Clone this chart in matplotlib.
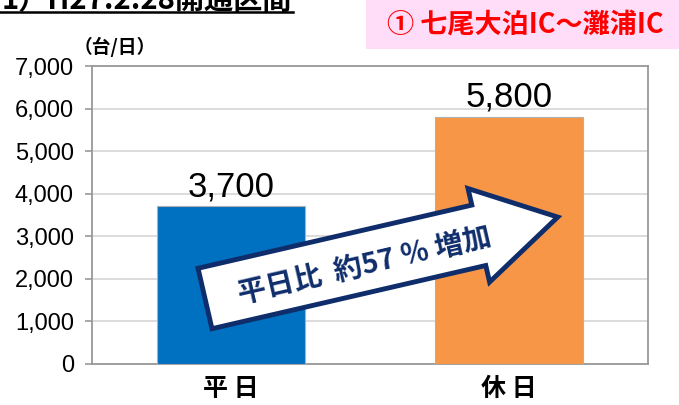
import numpy as np
import matplotlib
matplotlib.use("Agg")
import matplotlib.pyplot as plt
from matplotlib.patches import Polygon, Rectangle
from matplotlib.transforms import IdentityTransform
from matplotlib.ticker import FuncFormatter

# data
categories = ['平 日', '休 日']
values = [3700, 5800]
bar_colors = ['#0070C0', '#F79646']
yticks = [0, 1000, 2000, 3000, 4000, 5000, 6000, 7000]

jp = ['Noto Sans CJK JP', 'DejaVu Sans']
num = ['Liberation Sans', 'DejaVu Sans']
navy = '#0F2D6B'

W, H = 679, 405
fig = plt.figure(figsize=(W / 100, H / 100), dpi=100)
ax = fig.add_axes([92 / W, 1 - 364 / H, (648 - 92) / W, (364 - 66) / H])

x = np.arange(len(categories))
ax.bar(x, values, width=0.53, color=bar_colors, edgecolor='#B0B0B0',
       linewidth=0.8, zorder=3)
ax.set_xlim(-0.5, 1.5)
ax.set_ylim(0, 7000)
ax.set_yticks(yticks)
ax.yaxis.set_major_formatter(FuncFormatter(lambda v, p: f'{int(v):,}'))
ax.grid(axis='y', color='#D9D9D9', linewidth=1.3, zorder=0)
for s in ax.spines.values():
    s.set_color('#999999')
    s.set_linewidth(1.3)
ax.tick_params(axis='y', length=5, color='#999999', width=1.2, pad=8)
ax.tick_params(axis='x', length=0, pad=9)
for lab in ax.get_yticklabels():
    lab.set_family(num)
    lab.set_fontsize(17)
ax.set_xticks(x)
ax.set_xticklabels(categories, family=jp, fontsize=18, fontweight='bold')

for xi, v in zip(x, values):
    ax.annotate(f'{v:,}', (xi, v), xytext=(0, 7.5), textcoords='offset points',
                ha='center', va='baseline', fontsize=25, family=num, zorder=5)

# unit label
fig.text(74 / W, 1 - 47 / H, '（台/日）', family=jp, fontsize=13.5,
         fontweight='bold', va='center', ha='left')

# pink box + section title
fig.patches.append(Rectangle((366 / W, 1 - 49 / H), 1 - 366 / W, 49 / H,
                             transform=fig.transFigure, facecolor='#FFDDF8',
                             edgecolor='none', zorder=0))
fig.text(525 / W, 1 - 25 / H, '① 七尾大泊IC～灘浦IC', family=jp, fontsize=19.5,
         fontweight='bold', color='#FF0000', ha='center', va='center')

# heading at top left, clipped by the top edge as in the source
fig.text(2 / W, 1 - 9 / H, '1）H27.2.28開通区間', family=jp, fontsize=21,
         fontweight='bold', ha='left', va='baseline')
fig.add_artist(plt.Line2D([0, 293 / W], [1 - 12 / H, 1 - 12 / H],
                          transform=fig.transFigure, color='black', lw=1.8))

# arrow (pixel space, image y downwards)
tail = np.array([205.0, 298.5])
ang = np.deg2rad(13)
u = np.array([np.cos(ang), -np.sin(ang)])
n = np.array([np.sin(ang), np.cos(ang)])
L, hb, sw, hw = 362, 281, 31, 48
local = [(0, -sw), (hb, -sw), (hb, -hw), (L, 0), (hb, hw), (hb, sw), (0, sw)]
pts = np.array([tail + a * u + b * n for a, b in local])
pts[:, 1] = H - pts[:, 1]
fig.patches.append(Polygon(pts, closed=True, transform=IdentityTransform(),
                           facecolor='white', edgecolor=navy, linewidth=3.5,
                           joinstyle='miter', zorder=10))
c = tail + 163 * u + 4 * n
fig.text(c[0] / W, 1 - c[1] / H, '平日比  約57 ％ 増加', family=jp, fontsize=20.5,
         fontweight='bold', color=navy, rotation=13, rotation_mode='anchor',
         ha='center', va='center', zorder=11)

fig.savefig('out.png', dpi=100)
